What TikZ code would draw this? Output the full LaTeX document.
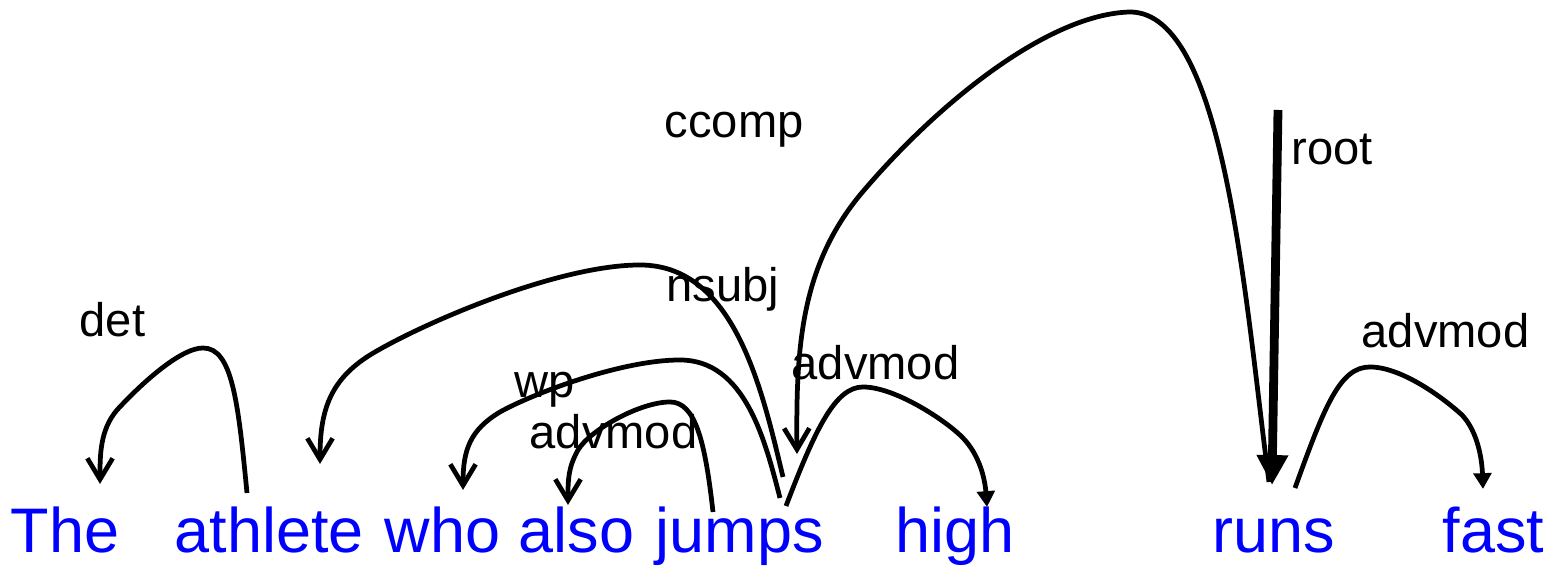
\documentclass[tikz,border=0pt]{standalone}
\usepackage{fontspec}
\setmainfont{Liberation Sans}
\usetikzlibrary{arrows.meta}
\definecolor{wordblue}{RGB}{0,0,255}
\tikzset{
  word/.style={anchor=base west, inner sep=0pt, text=wordblue, font=\fontsize{17.9}{20}\selectfont},
  rel/.style={anchor=base west, inner sep=0pt, text=black, font=\fontsize{13.4}{15}\selectfont},
  arc/.style={line width=1.35pt, line cap=butt},
  openhead/.style={arc, -{Straight Barb[length=6pt,width=7.2pt,line width=1.35pt]}},
  fillhead/.style={arc, -{Triangle[length=4.5pt,width=5pt]}},
  roothead/.style={line width=2.5pt, -{Triangle[length=8.5pt,width=8.5pt]}}
}
\begin{document}
\begin{tikzpicture}[x=0.01cm, y=-0.01cm]
\useasboundingbox (0,0) rectangle (1559,568);
% words
\node[word] (the) at (10,553) {The};
\node[word] (athlete) at (174,553) {athlete};
\node[word] (who) at (384,553) {who};
\node[word] (also) at (518,553) {also};
\node[word] (jumps) at (655,553) {jumps};
\node[word] (high) at (895,553) {high};
\node[word] (runs) at (1212,553) {runs};
\node[word] (fast) at (1442,553) {fast};
% labels
\node[rel] (ldet) at (79,337) {det};
\node[rel] (lnsubj) at (666,302) {nsubj};
\node[rel] (lwp) at (514,398) {wp};
\node[rel] (ladv1) at (529,449) {advmod};
\node[rel] (ladv2) at (791,380) {advmod};
\node[rel] (ladv3) at (1361,348) {advmod};
\node[rel] (lccomp) at (664,138) {ccomp};
\node[rel] (lroot) at (1291,165) {root};
% connector ends
\coordinate (detT) at (247,493);
\coordinate (detH) at (100,484);
\coordinate (nsubjT) at (783,477);
\coordinate (nsubjH) at (320,464);
\coordinate (wpT) at (780,498);
\coordinate (wpH) at (463,490);
\coordinate (adv1T) at (713,512);
\coordinate (adv1H) at (568,505);
\coordinate (adv2T) at (786,506);
\coordinate (adv2H) at (987,507);
\coordinate (ccompT) at (1269,482);
\coordinate (ccompH) at (797,454);
\coordinate (rootT) at (1278,110);
\coordinate (rootH) at (1272,485);
\coordinate (adv3T) at (1295,488);
\coordinate (adv3H) at (1483,489);
% connectors
\draw[openhead] (detT) .. controls (238,400) and (232,348) .. (203,348)
  .. controls (180,348) and (140,385) .. (117,410)
  .. controls (100,430) and (100,455) .. (detH);
\draw[openhead] (nsubjT) .. controls (762,390) and (735,265) .. (640,265)
  .. controls (560,265) and (430,320) .. (375,352)
  .. controls (330,378) and (320,410) .. (nsubjH);
\draw[openhead] (wpT) .. controls (765,440) and (745,360) .. (680,360)
  .. controls (620,360) and (530,395) .. (500,412)
  .. controls (470,430) and (463,450) .. (wpH);
\draw[openhead] (adv1T) .. controls (705,440) and (695,402) .. (670,402)
  .. controls (640,402) and (590,430) .. (578,450)
  .. controls (568,468) and (568,480) .. (adv1H);
\draw[fillhead] (adv2T) .. controls (815,430) and (835,387) .. (863,387)
  .. controls (895,387) and (945,420) .. (962,437)
  .. controls (980,455) and (985,480) .. (adv2H);
\draw[openhead] (ccompT) .. controls (1245,300) and (1225,12) .. (1130,12)
  .. controls (1050,14) and (940,100) .. (860,195)
  .. controls (800,268) and (796,350) .. (ccompH);
\draw[roothead] (rootT) -- (rootH);
\draw[fillhead] (adv3T) .. controls (1325,405) and (1340,367) .. (1370,367)
  .. controls (1400,367) and (1440,395) .. (1462,415)
  .. controls (1478,432) and (1482,460) .. (adv3H);
\end{tikzpicture}
\end{document}
